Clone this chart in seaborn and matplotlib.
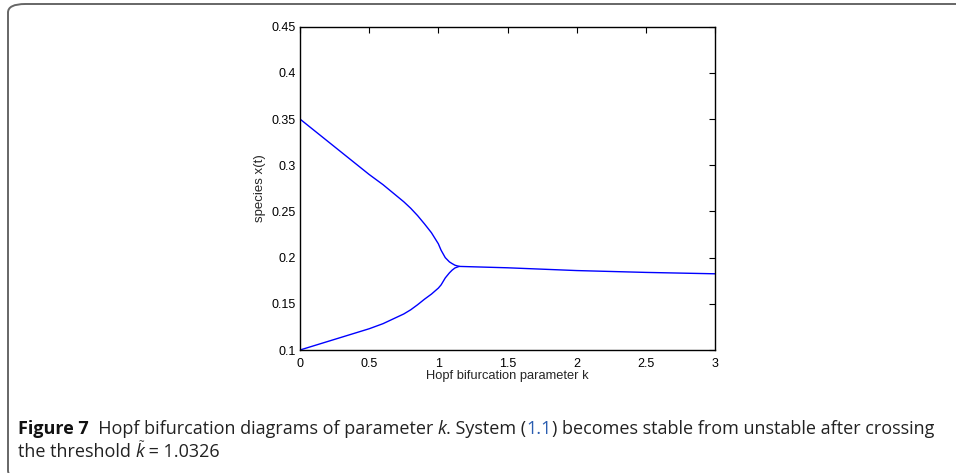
import matplotlib
matplotlib.use("Agg")
import matplotlib.pyplot as plt
import seaborn as sns
import pandas as pd
from matplotlib.patches import FancyBboxPatch

# Hopf bifurcation branches of x(t) against parameter k
k_upper = [0.0, 0.25, 0.5, 0.6, 0.75, 0.8, 0.85, 0.9, 0.95, 1.0, 1.02, 1.05, 1.08, 1.1, 1.12, 1.15]
x_upper = [0.350, 0.320, 0.290, 0.279, 0.2605, 0.2535, 0.2455, 0.2365, 0.227, 0.215, 0.208, 0.200, 0.1954, 0.1935, 0.1918, 0.1905]
k_lower = [0.0, 0.25, 0.5, 0.6, 0.75, 0.8, 0.85, 0.9, 0.95, 1.0, 1.02, 1.05, 1.08, 1.1, 1.12, 1.15]
x_lower = [0.100, 0.1115, 0.123, 0.1285, 0.139, 0.1435, 0.149, 0.155, 0.1605, 0.167, 0.1705, 0.178, 0.1835, 0.1865, 0.1888, 0.1905]
k_stable = [1.15, 1.5, 2.0, 2.5, 3.0]
x_stable = [0.1905, 0.189, 0.186, 0.184, 0.1825]

x_ticks = [0, 0.5, 1, 1.5, 2, 2.5, 3]
x_ticklabels = ["0", "0.5", "1", "1.5", "2", "2.5", "3"]
y_ticks = [0.1, 0.15, 0.2, 0.25, 0.3, 0.35, 0.4, 0.45]
y_ticklabels = ["0.1", "0.15", "0.2", "0.25", "0.3", "0.35", "0.4", "0.45"]

sns.set_style("white")
plt.rcParams["font.family"] = ["Liberation Sans", "DejaVu Sans"]

W, H = 956, 473
fig = plt.figure(figsize=(W / 100, H / 100), dpi=100)
fig.patch.set_facecolor("white")

# panel frame with rounded corners
frame = FancyBboxPatch((8 / W, -6 / H), (980 - 8) / W, (H - 4 + 6) / H,
                       boxstyle="round,pad=0,rounding_size=0.018",
                       transform=fig.transFigure, fill=False,
                       edgecolor="#666666", linewidth=1.4, clip_on=False)
fig.patches.append(frame)

ax = fig.add_axes([300 / W, 1 - 350 / H, (715 - 300) / W, (350 - 26.7) / H])

frames = [
    pd.DataFrame({"k": k_upper, "x": x_upper, "branch": "upper"}),
    pd.DataFrame({"k": k_lower, "x": x_lower, "branch": "lower"}),
    pd.DataFrame({"k": k_stable, "x": x_stable, "branch": "stable"}),
]
data = pd.concat(frames, ignore_index=True)
sns.lineplot(data=data, x="k", y="x", units="branch", estimator=None,
             color="#0000ff", linewidth=1.0, ax=ax, sort=False)

ax.set_xlim(0, 3)
ax.set_ylim(0.1, 0.45)
ax.set_xticks(x_ticks)
ax.set_xticklabels(x_ticklabels)
ax.set_yticks(y_ticks)
ax.set_yticklabels(y_ticklabels)
ax.tick_params(direction="in", length=4, width=0.8, top=True, right=True,
               labelsize=9, pad=3, colors="black")
ax.tick_params(axis="x", pad=6)
for s in ax.spines.values():
    s.set_visible(True)
    s.set_color("black")
    s.set_linewidth(1.0)
ax.set_xlabel("Hopf bifurcation parameter k", fontsize=9.3, labelpad=0)
ax.set_ylabel("species x(t)", fontsize=9.5, labelpad=4)

# caption, laid out piece by piece
cap_family = ["Liberation Sans Narrow", "Open Sans", "DejaVu Sans"]
cap_size = 13
renderer = fig.canvas.get_renderer()


def write_line(pieces, x0, y0):
    x = x0
    placed = []
    for txt, style in pieces:
        kw = dict(fontsize=cap_size, family=cap_family, color="#222222",
                  va="baseline", ha="left")
        if style == "bold":
            kw["fontweight"] = "bold"
            kw["color"] = "#111111"
        elif style == "italic":
            kw["fontstyle"] = "italic"
        elif style == "link":
            kw["color"] = "#2a5db0"
        t = fig.text(x / W, 1 - y0 / H, txt, **kw)
        bb = t.get_window_extent(renderer)
        placed.append((txt, style, x, bb.width))
        x += bb.width
    return placed


line1 = [("Figure 7", "bold"),
         ("  Hopf bifurcation diagrams of parameter ", "normal"),
         ("k", "italic"),
         (". System (", "normal"),
         ("1.1", "link"),
         (") becomes stable from unstable after crossing", "normal")]
line2 = [("the threshold ", "normal"),
         ("k", "italic"),
         (" = 1.0326", "normal")]

write_line(line1, 18, 434)
placed = write_line(line2, 18, 457)
kx, kw_ = placed[1][2], placed[1][3]
fig.text((kx + kw_ / 2 + 1) / W, 1 - 445 / H, "~", fontsize=7,
         family=cap_family, color="#222222", ha="center", va="baseline")

fig.savefig("out.png", dpi=100, facecolor="white")
